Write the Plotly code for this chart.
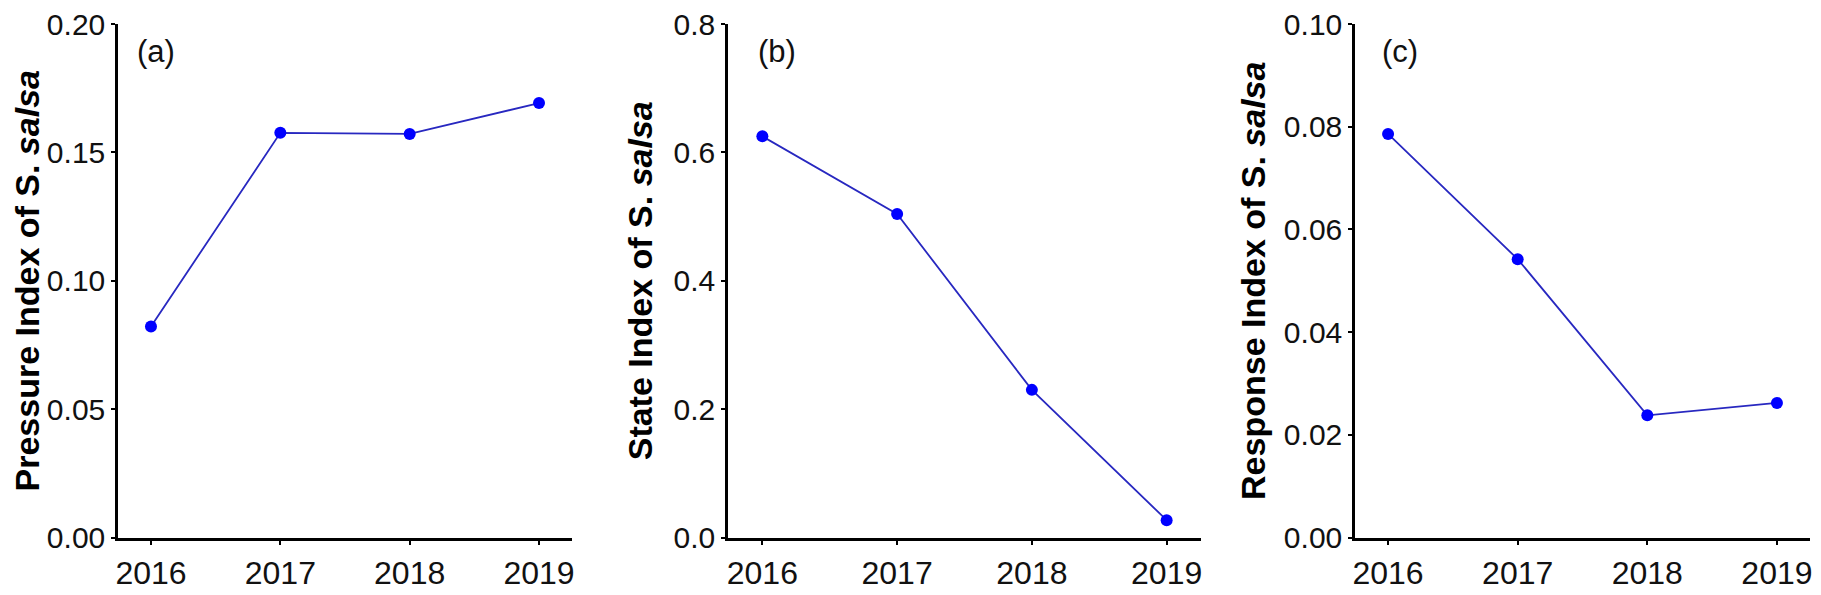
import plotly.graph_objects as go

years = [2016, 2017, 2018, 2019]
pressure = [0.0822, 0.1576, 0.1572, 0.1692]
state = [0.625, 0.504, 0.230, 0.027]
response = [0.0786, 0.0542, 0.0238, 0.0262]

pressure_ticks = [0.00, 0.05, 0.10, 0.15, 0.20]
state_ticks = [0.0, 0.2, 0.4, 0.6, 0.8]
response_ticks = [0.00, 0.02, 0.04, 0.06, 0.08, 0.10]

panels = [
    ("(a)", "Pressure Index of S. <i>salsa</i>", pressure, pressure_ticks, "{:.2f}"),
    ("(b)", "State Index of S. <i>salsa</i>", state, state_ticks, "{:.1f}"),
    ("(c)", "Response Index of S. <i>salsa</i>", response, response_ticks, "{:.2f}"),
]

# page body has an 8px margin, so the figure is offset by 8px
OFF = 8
W, H = 1821 - OFF, 595 - OFF
xdomains_px = [(118, 572), (728, 1201), (1355, 1810)]
ytop_px, ybot_px = 24, 537.5
ydom = [(H - (ybot_px - OFF)) / H, (H - (ytop_px - OFF)) / H]
label_x = [0.037, 0.059, 0.055]
standoffs = [9, 11, 8]

FONT = "Arial, Liberation Sans, sans-serif"

fig = go.Figure()
for i, (lab, title, vals, yt, fmt) in enumerate(panels):
    n = "" if i == 0 else str(i + 1)
    fig.add_trace(go.Scatter(
        x=years, y=vals, mode="lines+markers",
        line=dict(color="#2828c0", width=1.8),
        marker=dict(color="#0000ff", size=12),
        xaxis="x" + n, yaxis="y" + n, showlegend=False,
        cliponaxis=False,
    ))
    x0, x1 = xdomains_px[i]
    yr = [yt[0], yt[-1]]
    pad = (yr[1] - yr[0]) * 1e-6
    fig.update_layout(**{
        "xaxis" + n: dict(
            domain=[(x0 - OFF) / W, (x1 - OFF) / W], range=[2015.745, 2019.255],
            tickvals=years, ticktext=[str(y) for y in years],
            showline=True, linecolor="black", linewidth=2.5,
            ticks="outside", ticklen=5, tickwidth=2, tickcolor="black",
            showgrid=False, zeroline=False, anchor="y" + n,
            tickfont=dict(family=FONT, size=32, color="#111"),
            ticklabeloverflow="allow",
            automargin=False,
        ),
        "yaxis" + n: dict(
            domain=ydom, range=[yr[0], yr[1] + pad],
            tickvals=yt, ticktext=[fmt.format(v) for v in yt],
            showline=True, linecolor="black", linewidth=2.5,
            ticks="outside", ticklen=4, tickwidth=2, tickcolor="black",
            showgrid=False, zeroline=False, anchor="x" + n,
            tickfont=dict(family=FONT, size=30, color="#111"),
            ticklabeloverflow="allow",
            title=dict(text="<b>" + title + "</b>", standoff=standoffs[i],
                       font=dict(family=FONT, size=34, color="black")),
            automargin=False,
        ),
    })
    fig.add_annotation(
        text=lab, xref="x%s domain" % n, yref="y%s domain" % n,
        x=label_x[i], y=0.9455, xanchor="left", yanchor="middle", showarrow=False,
        font=dict(family=FONT, size=31, color="#111"),
    )

fig.update_layout(
    width=W, height=H, margin=dict(l=0, r=0, t=0, b=0),
    plot_bgcolor="white", paper_bgcolor="white",
)
fig.write_html("out.html")
